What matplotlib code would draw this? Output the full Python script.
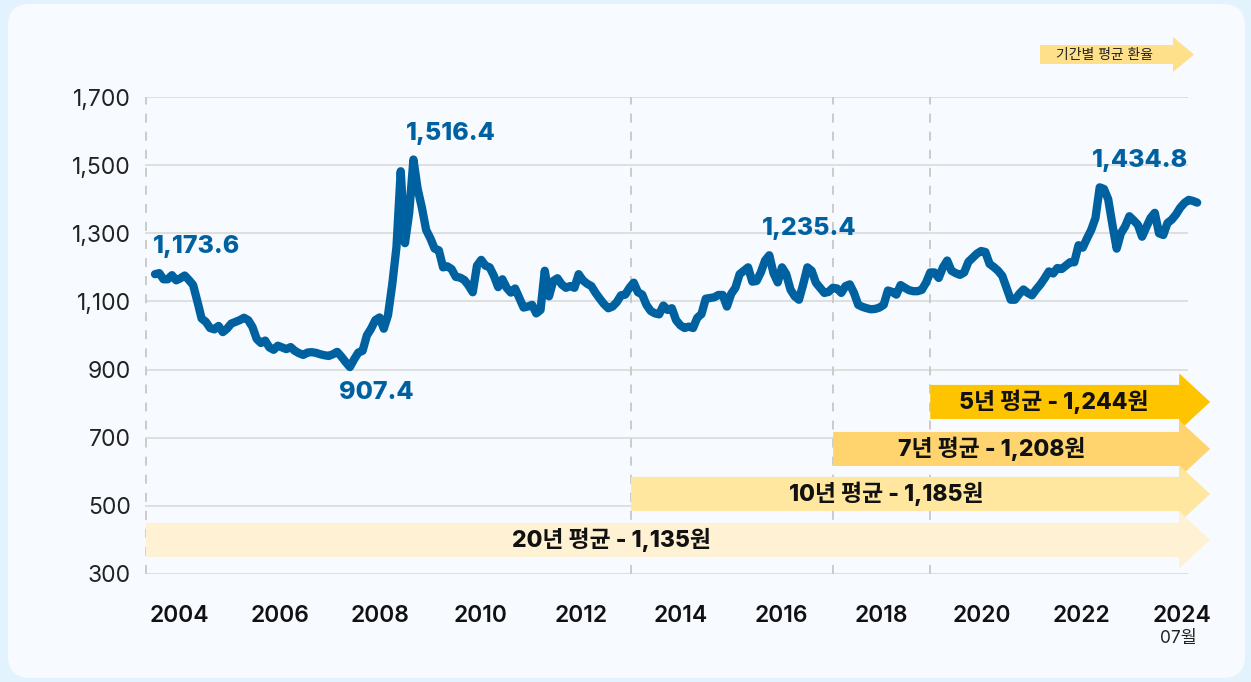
import numpy as np
import matplotlib
matplotlib.use('Agg')
import matplotlib.pyplot as plt
from matplotlib.patches import Polygon, FancyBboxPatch
from matplotlib.ticker import FuncFormatter

plt.rcParams['font.family'] = ['Inter', 'Noto Sans CJK KR', 'DejaVu Sans']

# monthly USD/KRW, 2004-01 .. 2024-07
rates = [
    1180, 1183, 1165, 1165, 1177, 1162, 1168, 1176, 1163, 1148, 1100, 1050,   # 2004
    1040, 1022, 1018, 1028, 1010, 1020, 1035, 1040, 1045, 1052, 1045, 1025,   # 2005
    990, 978, 985, 965, 958, 970, 965, 960, 966, 955, 948, 943,               # 2006
    950, 951, 949, 945, 942, 940, 945, 952, 938, 922, 907.4, 930,             # 2007
    950, 955, 1000, 1020, 1045, 1053, 1020, 1060, 1150, 1260, 1482, 1271,     # 2008
    1360, 1516.4, 1430, 1375, 1310, 1285, 1255, 1250, 1200, 1203, 1195, 1172, # 2009
    1170, 1163, 1147, 1127, 1205, 1222, 1205, 1200, 1175, 1142, 1165, 1140,   # 2010
    1126, 1138, 1110, 1082, 1085, 1090, 1065, 1075, 1190, 1115, 1160, 1168,   # 2011
    1150, 1140, 1145, 1140, 1180, 1162, 1152, 1145, 1125, 1108, 1092, 1080,   # 2012
    1085, 1098, 1118, 1120, 1140, 1155, 1127, 1120, 1090, 1072, 1065, 1062,   # 2013
    1088, 1075, 1080, 1045, 1030, 1022, 1026, 1022, 1052, 1063, 1108, 1110,   # 2014
    1112, 1119, 1119, 1085, 1122, 1140, 1180, 1190, 1200, 1158, 1160, 1185,   # 2015
    1220, 1235.4, 1183, 1156, 1200, 1180, 1135, 1115, 1105, 1150, 1200, 1190, # 2016
    1155, 1140, 1125, 1128, 1140, 1138, 1125, 1145, 1150, 1125, 1090, 1084,   # 2017
    1080, 1077, 1078, 1082, 1090, 1132, 1128, 1120, 1148, 1140, 1133, 1130,   # 2018
    1130, 1134, 1155, 1185, 1185, 1169, 1200, 1220, 1190, 1183, 1178, 1185,   # 2019
    1216, 1228, 1240, 1248, 1245, 1210, 1201, 1190, 1175, 1140, 1105, 1105,   # 2020
    1122, 1135, 1125, 1118, 1135, 1150, 1168, 1188, 1182, 1198, 1195, 1205,   # 2021
    1215, 1215, 1265, 1258, 1285, 1310, 1345, 1434.8, 1430, 1400, 1325, 1255, # 2022
    1300, 1320, 1350, 1338, 1325, 1290, 1318, 1345, 1360, 1300, 1295, 1330,   # 2023
    1340, 1355, 1375, 1389, 1398, 1395, 1390,                                 # 2024
]
years = 2004 + np.arange(len(rates)) / 12

tick_labels = ['2004', '2006', '2008', '2010', '2012', '2014',
               '2016', '2018', '2020', '2022', '2024']

# labelled points: month index, text
peak_idx = [0, 61, 46, 145, 223]
peak_text = ['1,173.6', '1,516.4', '907.4', '1,235.4', '1,434.8']
peak_offset = [(30, 20), (27, 19), (19, -18), (29, 19), (29, 19)]

# period averages
avg_labels = ['5년 평균 - 1,244원', '7년 평균 - 1,208원',
              '10년 평균 - 1,185원', '20년 평균 - 1,135원']
avg_start = [2019.25, 2017.34, 2013.365, 2003.82]
avg_colors = ['#FFC400', '#FFD46E', '#FFE7A0', '#FFF2D4']
avg_ypos = [805, 667, 535, 400]
avg_textx = [2021.69, 2020.45, 2018.38, 2012.97]

blue = '#0061A1'

fig = plt.figure(figsize=(12.51, 6.82), dpi=100)
fig.patch.set_facecolor('#E2F3FE')
card = FancyBboxPatch((8, 4), 1237, 674, boxstyle='round,pad=0,rounding_size=22',
                      transform=None, fc='#F7FBFF', ec='none', zorder=0)
fig.add_artist(card)

ax = fig.add_axes([145 / 1251, 108 / 682, (1188 - 145) / 1251, 477 / 682])
ax.set_facecolor('none')
ax.set_xlim(2003.803, 2024.32)
ax.set_ylim(300, 1700)
for s in ax.spines.values():
    s.set_visible(False)

ax.set_yticks(np.arange(300, 1701, 200))
ax.yaxis.set_major_formatter(FuncFormatter(lambda v, p: f'{int(v):,}'))
ax.yaxis.grid(True, color='#DCDCDC', lw=1.3)
ax.set_axisbelow(True)
ax.tick_params(axis='y', length=0, pad=10, labelsize=16.5, labelcolor='#222222')

ax.set_xticks(np.linspace(2004.49, 2024.2, 11))
ax.set_xticklabels(tick_labels, fontsize=16.5, fontweight='semibold')
ax.tick_params(axis='x', length=0, pad=22, labelcolor='#111111')

# dashed period markers
for xs in avg_start:
    ax.plot([xs, xs], [300, 1700], color='#C8C8C8', lw=1.3, dashes=(5, 5), zorder=1)

# average arrows
body_end, tip = 2024.146, 2024.755
for lab, x0, c, yc, tx in zip(avg_labels, avg_start, avg_colors, avg_ypos, avg_textx):
    hb, hh = 50, 84
    pts = [(x0, yc - hb), (body_end, yc - hb), (body_end, yc - hh), (tip, yc),
           (body_end, yc + hh), (body_end, yc + hb), (x0, yc + hb)]
    ax.add_patch(Polygon(pts, closed=True, fc=c, ec='none', clip_on=False, zorder=2))
    ax.text(tx, yc, lab, ha='center', va='center', fontsize=16.5, fontweight='heavy',
            color='#111111', zorder=3)

# exchange rate line
ax.plot(years, rates, color=blue, lw=6, solid_joinstyle='round',
        solid_capstyle='round', clip_on=False, zorder=4)

for i, t, off in zip(peak_idx, peak_text, peak_offset):
    ax.annotate(t, (years[i], rates[i]), xytext=off, textcoords='offset points',
                ha='center', va='center', fontsize=18, fontweight='heavy', color=blue)

fig.text(1178 / 1251, 1 - 638 / 682, '07월', ha='center', va='center',
         fontsize=12.5, color='#222222')

# legend arrow, top right
lx0, lx1, ltip = 1040, 1173, 1194
ly, lb, lh = 682 - 54.5, 9.5, 17.5
lpts = [(lx0, ly - lb), (lx1, ly - lb), (lx1, ly - lh), (ltip, ly),
        (lx1, ly + lh), (lx1, ly + lb), (lx0, ly + lb)]
lpts = [(x / 1251, y / 682) for x, y in lpts]
fig.add_artist(Polygon(lpts, closed=True, fc='#FFE08A', ec='none',
                       transform=fig.transFigure))
fig.text(1104 / 1251, ly / 682, '기간별 평균 환율', ha='center', va='center',
         fontsize=10, color='#222222')

fig.savefig('out.png', dpi=100, facecolor=fig.get_facecolor())
